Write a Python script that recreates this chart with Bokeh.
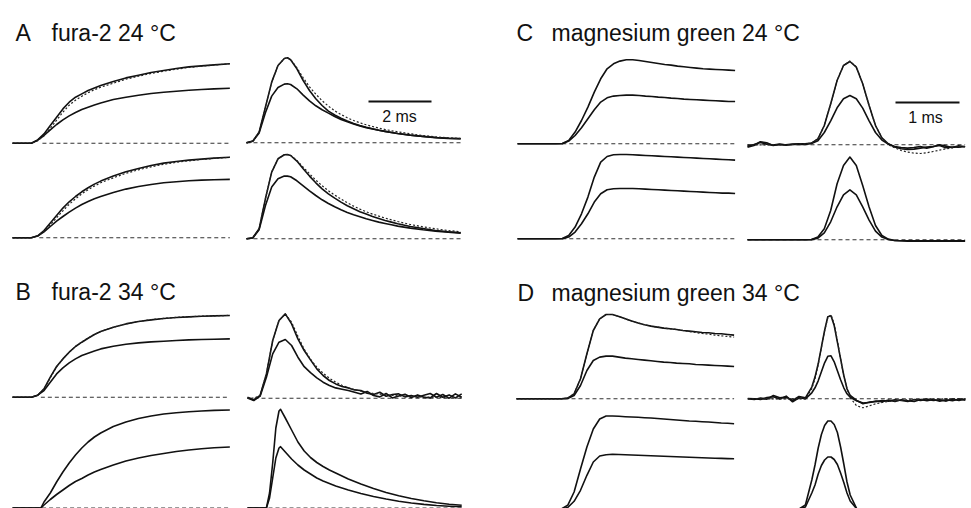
from bokeh.plotting import figure
from bokeh.models import Range1d
from bokeh.embed import file_html
from bokeh.resources import INLINE
from bokeh.core.properties import value

# ---------------- labels ----------------
PANEL_LETTERS = ["A", "B", "C", "D"]
PANEL_TITLES = ["fura-2 24 \u00b0C", "fura-2 34 \u00b0C",
                "magnesium green 24 \u00b0C", "magnesium green 34 \u00b0C"]
SCALE_BAR_MS = [2, 1]
SCALE_BAR_LABELS = ["2 ms", "1 ms"]

# ---------------- data: time (ms) and amplitude (a.u.) ----------------
# Panel A, fura-2 24 C : cumulative (left) traces
A_TL_T = [0, 0.6, 0.8, 1.0, 1.2, 1.4, 1.6, 1.8, 2.0, 2.2, 2.4, 2.6, 2.8, 3.2, 3.6, 4.0, 4.4, 4.8, 5.2, 5.6, 6.0, 6.4, 6.9]
A_TL_LARGE = [0, 0, 3.3, 9.3, 17.7, 26, 34.3, 41, 46, 49.3, 52.7, 55.3, 57.7, 61.7, 65.3, 68, 70.7, 72.7, 74.7, 76.3, 77.3, 78.3, 79.5]
A_TL_SMALL = [0, 0, 3, 7.7, 13.3, 18.7, 23.3, 27.3, 30.7, 33.7, 36, 38.3, 40.3, 43.7, 46, 48, 49.7, 51, 52, 53, 53.7, 54.3, 55]
A_TL_FIT = [0, 0, 2.5, 7.5, 15, 23, 31, 38, 43, 47, 50.5, 53.5, 56, 60, 64, 67, 69.8, 72, 74, 75.8, 77, 78.2, 79.5]

A_BL_T = A_TL_T
A_BL_LARGE = [0, 0, 2, 7.3, 14.7, 22.3, 29.7, 36, 41.3, 46, 50, 53.7, 56.7, 61.7, 66, 69.3, 72.3, 74.7, 76.3, 77.7, 78.7, 79.7, 80.5]
A_BL_SMALL = [0, 0, 1.7, 6, 11.3, 16.7, 21.3, 25.7, 29.7, 33.3, 36.3, 39, 41.3, 45.3, 48.7, 51.3, 53.3, 55, 56, 57, 57.7, 58, 58.4]
A_BL_FIT = [0, 0, 1.8, 6.5, 13, 20, 27, 33.5, 39, 44, 48, 51.7, 55, 60, 64.5, 68, 71, 73.5, 75.5, 77, 78.3, 79.5, 80.5]

# Panel A : rate (right) traces
A_TR_T = [0, 0.2, 0.4, 0.6, 0.8, 1.0, 1.2, 1.3, 1.4, 1.6, 1.8, 2.0, 2.2, 2.4, 2.6, 2.8, 3.0, 3.2, 3.4, 3.6, 3.8, 4.0, 4.2, 4.4, 4.6, 4.8, 5.2, 5.6, 6.0, 6.4, 6.8]
A_TR_LARGE = [0, 1.7, 10.7, 35.7, 60.7, 77.3, 84.3, 85, 83, 74, 62.3, 52.3, 44, 37.3, 31.7, 27.8, 24.5, 21.7, 19.3, 17.2, 15.5, 14, 12.6, 11.4, 10.3, 9.3, 7.7, 6.4, 5.3, 4.6, 4.2]
A_TR_SMALL = [0, 1.5, 9.7, 30, 46.7, 55.3, 58.7, 59, 58.3, 54, 47.7, 42, 37, 33, 29.7, 26.3, 23.3, 21, 18.7, 16.8, 15.2, 13.8, 12.6, 11.4, 10.3, 9.3, 7.6, 6.3, 5.2, 4.4, 4.0]
A_TR_FIT = [0, 1.5, 10.7, 35.7, 60.7, 77.3, 84.3, 85, 83.3, 75, 65, 56, 48.7, 42, 36.7, 32, 28.3, 25, 22.3, 20, 18, 16.3, 14.7, 13.3, 12, 11, 9, 7.3, 6, 5, 4.3]

A_BR_T = A_TR_T
A_BR_LARGE = [0, 1, 10, 40, 66.7, 80, 84, 84.3, 83.3, 77.7, 70, 62.7, 56, 50, 45, 40.7, 36.7, 33, 30, 27, 24.7, 22.3, 20.3, 18.3, 16.7, 15, 12.3, 10.3, 8.3, 7, 6]
A_BR_SMALL = [0, 0.8, 9, 33, 51.7, 60, 62.7, 62.7, 62, 58, 53, 48, 43.3, 39, 35.3, 32, 29, 26.3, 24, 22, 20, 18.3, 16.7, 15.3, 14, 12.7, 10.7, 9, 7.7, 6.7, 5.7]
A_BR_FIT = [0, 1, 10, 40, 66.7, 80, 84, 84.3, 83.5, 78.3, 71.7, 65, 58.7, 53, 48, 43.7, 39.7, 36, 32.7, 29.7, 27, 24.7, 22.7, 20.7, 19, 17.3, 14.3, 12, 10, 8.3, 7]

# Panel B, fura-2 34 C
B_TL_T = A_TL_T
B_TL_LARGE = [0, 0, 2, 8.3, 20, 30.7, 38.3, 45, 50.7, 55, 59, 62.7, 65.7, 70, 73.3, 75.7, 77.3, 78.7, 79.7, 80.3, 81, 81.3, 81.7]
B_TL_SMALL = [0, 0, 2, 6.7, 15, 23.3, 29.3, 34.3, 38.3, 41.7, 44, 46.3, 48.3, 51, 53, 54.3, 55.3, 56, 56.7, 57.3, 57.7, 58, 58.3]
B_TL_FIT = [0, 0, 2, 8, 19.5, 30.3, 38.3, 45, 50.7, 55.2, 59.2, 62.7, 65.7, 70, 73.3, 75.7, 77.5, 78.8, 79.8, 80.5, 81, 81.4, 81.8]

B_BL_T = [0, 0.9, 1.0, 1.2, 1.4, 1.6, 1.8, 2.0, 2.2, 2.4, 2.6, 2.8, 3.2, 3.6, 4.0, 4.4, 4.8, 5.2, 5.6, 6.0, 6.4, 6.9]
B_BL_LARGE = [0, 0, 6, 15, 26, 36, 45, 53, 60, 66, 71, 75, 81.5, 86, 89.5, 92, 94, 95.3, 96.3, 97, 97.6, 98]
B_BL_SMALL = [0, 0, 3, 8.5, 13.5, 18, 22.5, 26.5, 29.5, 33, 36, 38.5, 43, 47, 50, 52.5, 54.5, 56.5, 58, 59.3, 60.3, 61]

B_TR_T = [0, 0.2, 0.4, 0.6, 0.8, 1.0, 1.2, 1.4, 1.6, 1.8, 2.0, 2.2, 2.4, 2.6, 2.8, 3.0, 3.2, 3.4, 3.6, 3.8, 4.0, 4.2, 4.4, 4.6, 4.8, 5.0, 5.2, 5.4, 5.6, 5.8, 6.0, 6.2, 6.4, 6.6, 6.8]
B_TR_LARGE = [1, -1.7, 2.7, 24.3, 57.7, 77.7, 84.3, 74.3, 59.3, 47.7, 38.3, 29.3, 22.7, 17.7, 14.3, 11.7, 10.3, 8.3, 7.7, 5, 3.7, 6, 2, 3.7, 4.3, 1.3, 2.7, 1, 3, 4.7, 1, 3.7, 0, 4.3, 1]
B_TR_SMALL = [0.3, -2.3, 2, 21, 44.3, 56, 58.7, 52.7, 41, 31.5, 25.5, 20.3, 16, 12.7, 10.3, 9, 7.7, 6, 4.3, 6.7, 2.7, 1.3, 4.7, 0.3, 2.3, 4, 0.7, 3.3, 1, 0.3, 4.7, 1, 3.3, 0.3, 4.3]
B_TR_FIT = [0, 0, 2.7, 24.3, 57.7, 77.7, 84.3, 76, 62, 49, 39, 31, 25, 20, 16, 13, 10.5, 8.5, 7, 5.7, 4.7, 4, 3.3, 2.8, 2.3, 2, 1.7, 1.4, 1.2, 1, 0.8, 0.6, 0.5, 0.4, 0.3]

B_BR_T = [0, 0.6, 0.7, 0.8, 0.9, 1.0, 1.05, 1.2, 1.4, 1.6, 1.8, 2.0, 2.2, 2.4, 2.6, 2.8, 3.2, 3.6, 4.0, 4.4, 4.8, 5.2, 5.6, 6.0, 6.4, 6.8]
B_BR_LARGE = [0, 0, 15, 45, 80, 97, 98.7, 90, 78, 66, 57, 50.5, 45.5, 41.5, 38, 35, 29, 24, 19.5, 15.5, 12.3, 9.5, 7.2, 5.3, 3.8, 2.7]
B_BR_SMALL = [0, 0, 10, 30, 50, 60, 61.3, 56, 49, 43, 38, 34, 30, 27, 24.5, 22, 18, 14.5, 11.5, 9, 6.8, 5, 3.6, 2.5, 1.8, 1.2]

# Panel C, magnesium green 24 C
C_TL_T = [0, 0.6, 0.7, 0.8, 0.9, 1.0, 1.1, 1.2, 1.3, 1.4, 1.5, 1.6, 1.7, 1.8, 1.9, 2.0, 2.1, 2.2, 2.3, 2.4, 2.5, 2.6, 2.7, 2.8, 2.9, 3.0, 3.1, 3.2, 3.3, 3.4]
C_TL_LARGE = [0, 0, 0.3, 3.3, 11.7, 23.3, 36.7, 51.7, 65, 75, 80, 82.7, 84, 84, 83.3, 82.3, 81.3, 80.3, 79.3, 78.7, 77.7, 77, 76.3, 75.7, 75, 74.7, 74.3, 74, 73.7, 73.3]
C_TL_SMALL = [0, 0, 0, 2.7, 8.3, 16, 25, 34, 41.7, 46, 47.7, 48.3, 48.7, 48.7, 48.3, 47.7, 47.3, 46.7, 46.3, 45.7, 45.3, 44.7, 44.3, 44, 43.7, 43.3, 43, 42.7, 42.3, 42.3]

C_BL_T = C_TL_T
C_BL_LARGE = [0, 0, 0.3, 3.3, 11.7, 25, 41.7, 61.7, 76.7, 82.3, 84, 84.3, 84.3, 84, 83.7, 83.3, 83, 82.7, 82.3, 82, 81.7, 81.3, 81, 80.7, 80.3, 80, 79.7, 79.3, 79, 78.7]
C_BL_SMALL = [0, 0, 0, 1.7, 6.7, 15, 25, 36.7, 45, 49, 50, 50.3, 50.3, 50.3, 50, 49.7, 49.3, 49, 48.7, 48.3, 48, 47.7, 47.3, 47, 46.7, 46.3, 46, 45.7, 45.7, 45.3]

C_TR_T = [0, 0.1, 0.2, 0.3, 0.4, 0.5, 0.6, 0.7, 0.8, 0.9, 1.0, 1.1, 1.2, 1.3, 1.4, 1.5, 1.6, 1.7, 1.8, 1.9, 2.0, 2.1, 2.2, 2.3, 2.4, 2.5, 2.6, 2.7, 2.8, 2.9, 3.0, 3.1, 3.2, 3.3, 3.4]
C_TR_LARGE = [-2.3, -0.7, 3, 2, -0.7, 0.3, 0, 0.7, 1, 1, 1.7, 6, 19.3, 41, 64.3, 79.3, 83.3, 77.7, 61, 39.3, 19.3, 7, 1, -2.3, -4, -4.7, -4.3, -3.3, -2.3, -1.7, -0.7, -3, -2.3, -2.3, -1.7]
C_TR_SMALL = [-1.3, 0.3, 2.3, 0.7, -0.3, 0.7, -0.3, 0.3, 0.7, 0.3, 1.3, 4, 12.3, 24, 37, 46, 49.3, 46, 36.7, 24, 12.3, 4.7, 0.7, -1.7, -2.7, -3.3, -2.7, -1.7, -3.3, -2, 0, -1.3, -2.7, -1, -2]
C_TR_FIT = [0, 0, 0, 0, 0, 0, 0, 0.3, 0.7, 1, 1.7, 6, 19.3, 41, 64.3, 79.3, 83.7, 78, 61, 39.3, 19.3, 7, 0, -3, -5.7, -7.3, -8.3, -8.7, -8, -6.7, -5.3, -4, -3, -2.3, -1.7]

C_BR_T = C_TR_T
C_BR_LARGE = [0, 0, 0, 0, 0, 0, 0, 0, 0, 0, 0.3, 2.7, 11, 29.3, 56, 74.3, 82.7, 74.3, 54.3, 32.7, 14.3, 4.3, 0.7, -0.7, -1, -1.3, -1.3, -1.3, -1.3, -1.3, -1.3, -1.3, -1.3, -1.3, -1.3]
C_BR_SMALL = [0, 0, 0, 0, 0, 0, 0, 0, 0, 0, 0.2, 1.7, 7, 18, 33, 45, 50, 45, 33, 19.7, 8.7, 2.7, 0.3, -0.7, -1, -1, -1, -1, -1, -1, -1, -1, -1, -1, -1]

# Panel D, magnesium green 34 C
D_TL_T = C_TL_T
D_TL_LARGE = [0, 0, 0, 0.7, 5, 20, 45, 68.3, 80, 84.3, 84.3, 82.3, 80, 77.7, 75.7, 74, 72.7, 71.7, 70.7, 70, 69.3, 68.3, 67.7, 67, 66.3, 66, 65.3, 65, 64.3, 63.7]
D_TL_SMALL = [0, 0, 0, 0.3, 3.3, 13.3, 28.3, 38.3, 41.7, 42.7, 42.7, 41.7, 40.7, 40, 39.3, 38.7, 38, 37.3, 36.7, 36.3, 35.7, 35.3, 35, 34.3, 34, 33.7, 33.3, 33, 32.7, 32.3]
D_TL_FIT = [0, 0, 0, 0.7, 5, 20, 45, 68.3, 80, 84.3, 84.3, 82.3, 80, 77.7, 75.7, 74, 72.7, 71.7, 70.7, 70, 69.3, 68.3, 67.3, 66.3, 65.3, 64.7, 63.7, 63, 62.3, 61.7]

D_BL_T = C_TL_T
D_BL_LARGE = [0, 0, 0, 3.7, 17, 40, 62, 80, 90, 93, 93, 92.7, 92.3, 92, 91.7, 91.3, 91, 90.5, 90, 89.5, 89, 88.5, 88, 87.7, 87.3, 87, 86.5, 86, 85.7, 85.3]
D_BL_SMALL = [0, 0, 0, 1.5, 7.7, 18.7, 33.7, 47, 53, 54.3, 54.7, 54.5, 54.3, 54, 53.8, 53.5, 53.2, 53, 52.7, 52.5, 52.2, 52, 51.7, 51.5, 51.2, 51, 50.8, 50.6, 50.4, 50.3]

D_TR_T = [0, 0.1, 0.2, 0.3, 0.4, 0.5, 0.6, 0.7, 0.8, 0.9, 1.0, 1.05, 1.1, 1.15, 1.2, 1.25, 1.3, 1.35, 1.4, 1.45, 1.5, 1.55, 1.6, 1.7, 1.8, 1.9, 2.0, 2.1, 2.2, 2.3, 2.4, 2.5, 2.6, 2.7, 2.8, 2.9, 3.0, 3.1, 3.2, 3.3, 3.4]
D_TR_LARGE = [0, -0.7, 0.7, -0.3, 3.3, 1, 1.7, -1.7, 2.3, 1, 11.7, 21.7, 35, 51.7, 68.3, 82, 83, 73.3, 56.7, 40, 23.3, 10, 3.3, -1.7, -5, -3.3, -2.7, -1.7, -2.3, -1, -1.7, -2.7, -0.7, -1.7, -0.3, -1.7, -1, -2.3, -0.3, -1.7, 0]
D_TR_SMALL = [0.3, 0, -0.7, 1.3, 2, -0.3, 2.7, -3, 1, 0, 6, 11, 18, 27, 36, 42.5, 43, 37, 28, 19, 11, 5, 1.5, -2, -4.3, -3.7, -2.3, -3, -1.3, -2.7, -1, -2, -2.7, -0.7, -2, -0.7, -2.3, -1, -2, -0.3, -1.3]
D_TR_FIT = [0, 0, 0, 0, 0, 0, 0, 0, 0, 0, 10, 20, 34, 51, 68, 81, 84, 75, 58, 40, 23, 10, 1, -7, -9, -7, -5, -3.7, -2.7, -2, -1.5, -1.1, -0.8, -0.6, -0.4, -0.3, -0.2, -0.1, 0, 0, 0]

D_BR_T = D_TR_T
D_BR_LARGE = [0, 0, 0, 0, 0, 0, 0, 0, 0, 4, 29, 44, 61, 74.5, 83.5, 88, 88, 84.5, 76.5, 62, 45, 27, 14, 0.5, 0, 0, 0, 0, 0, 0, 0, 0, 0, 0, 0, 0, 0, 0, 0, 0, 0]
D_BR_SMALL = [0, 0, 0, 0, 0, 0, 0, 0, 0, 2, 16, 24, 35, 43.5, 49, 52, 52, 49.5, 44.5, 36, 26.5, 16, 8, 0.3, 0, 0, 0, 0, 0, 0, 0, 0, 0, 0, 0, 0, 0, 0, 0, 0, 0]

# ---------------- layout / styling ----------------
W, H = 971, 508
FURA_PX_PER_MS = 31.5
MG_PX_PER_MS = 64.0
INK = "#111111"
FONT = "Liberation Sans"

subplots = [
    # name, t, large, small, fit, left pixel of t=0, px per ms, baseline pixel row, baseline start (ms)
    ("A_TL", A_TL_T, A_TL_LARGE, A_TL_SMALL, A_TL_FIT, 12, FURA_PX_PER_MS, 142.7, 0.95),
    ("A_BL", A_BL_T, A_BL_LARGE, A_BL_SMALL, A_BL_FIT, 12, FURA_PX_PER_MS, 237.3, 0.85),
    ("A_TR", A_TR_T, A_TR_LARGE, A_TR_SMALL, A_TR_FIT, 246, FURA_PX_PER_MS, 142.3, 0.0),
    ("A_BR", A_BR_T, A_BR_LARGE, A_BR_SMALL, A_BR_FIT, 246, FURA_PX_PER_MS, 238.3, 0.0),
    ("B_TL", B_TL_T, B_TL_LARGE, B_TL_SMALL, B_TL_FIT, 12, FURA_PX_PER_MS, 396.7, 0.9),
    ("B_BL", B_BL_T, B_BL_LARGE, B_BL_SMALL, None, 12, FURA_PX_PER_MS, 507.5, 0.05),
    ("B_TR", B_TR_T, B_TR_LARGE, B_TR_SMALL, B_TR_FIT, 247, FURA_PX_PER_MS, 397.7, 0.0),
    ("B_BR", B_BR_T, B_BR_LARGE, B_BR_SMALL, None, 247, FURA_PX_PER_MS, 507.5, 0.0),
    ("C_TL", C_TL_T, C_TL_LARGE, C_TL_SMALL, None, 517, MG_PX_PER_MS, 143.3, 0.7),
    ("C_BL", C_BL_T, C_BL_LARGE, C_BL_SMALL, None, 517, MG_PX_PER_MS, 238.3, 0.7),
    ("C_TR", C_TR_T, C_TR_LARGE, C_TR_SMALL, C_TR_FIT, 747, MG_PX_PER_MS, 144.3, 0.0),
    ("C_BR", C_BR_T, C_BR_LARGE, C_BR_SMALL, None, 747, MG_PX_PER_MS, 239.3, 0.0),
    ("D_TL", D_TL_T, D_TL_LARGE, D_TL_SMALL, D_TL_FIT, 516, MG_PX_PER_MS, 398.3, 0.75),
    ("D_BL", D_BL_T, D_BL_LARGE, D_BL_SMALL, None, 516, MG_PX_PER_MS, 508.5, 0.75),
    ("D_TR", D_TR_T, D_TR_LARGE, D_TR_SMALL, D_TR_FIT, 747.3, MG_PX_PER_MS, 398.3, 0.0),
    ("D_BR", D_BR_T, D_BR_LARGE, D_BR_SMALL, None, 747.3, MG_PX_PER_MS, 508.5, 0.0),
]

extra_x = {}
extra_y = {}
for name, t, lg, sm, ft, x0, pxms, yb, b0 in subplots:
    extra_x[name] = Range1d(start=-x0 / pxms, end=(W - x0) / pxms)
    extra_y[name] = Range1d(start=yb - H, end=yb)

p = figure(width=W, height=H, x_range=Range1d(0, W), y_range=Range1d(H, 0),
           output_backend="svg", toolbar_location=None,
           x_axis_location=None, y_axis_location=None,
           min_border=0, min_border_left=0, min_border_right=0,
           min_border_top=0, min_border_bottom=0,
           background_fill_color="white", border_fill_color="white")
p.outline_line_color = None
p.xgrid.visible = False
p.ygrid.visible = False
p.extra_x_ranges = extra_x
p.extra_y_ranges = extra_y

for name, t, lg, sm, ft, x0, pxms, yb, b0 in subplots:
    kw = dict(x_range_name=name, y_range_name=name)
    p.line([b0, t[-1]], [0, 0], line_color="#333333", line_width=1.1,
           line_dash="4 3", **kw)
    p.line(t, sm, line_color=INK, line_width=1.6, line_join="round", **kw)
    p.line(t, lg, line_color=INK, line_width=1.6, line_join="round", **kw)
    if ft is not None:
        p.line(t, ft, line_color="#222222", line_width=1.2, line_dash="2 2",
               line_join="round", **kw)

# scale bars (in the time units of the rate panels)
bar_a_start = (368 - 246) / FURA_PX_PER_MS
p.line([bar_a_start, bar_a_start + SCALE_BAR_MS[0]], [142.3 - 101, 142.3 - 101],
       x_range_name="A_TR", y_range_name="A_TR", line_color=INK, line_width=1.8)
bar_c_start = (895 - 747) / MG_PX_PER_MS
p.line([bar_c_start, bar_c_start + SCALE_BAR_MS[1]], [144.3 - 102, 144.3 - 102],
       x_range_name="C_TR", y_range_name="C_TR", line_color=INK, line_width=1.8)

p.text(x=[399, 925], y=[116, 117], text=SCALE_BAR_LABELS,
       text_font=value(FONT), text_font_size="16px",
       text_color=INK, text_align="center", text_baseline="alphabetic")

# panel titles
p.text(x=[15, 15, 516, 517], y=[32, 291, 32, 292], text=PANEL_LETTERS,
       text_font=value(FONT), text_font_size="23px",
       text_color=INK, text_align="left", text_baseline="alphabetic")
p.text(x=[51, 51, 551, 551], y=[32, 291, 32, 292], text=PANEL_TITLES,
       text_font=value(FONT), text_font_size="23px",
       text_color=INK, text_align="left", text_baseline="alphabetic")

open("out.html", "w").write(file_html(p, INLINE))
